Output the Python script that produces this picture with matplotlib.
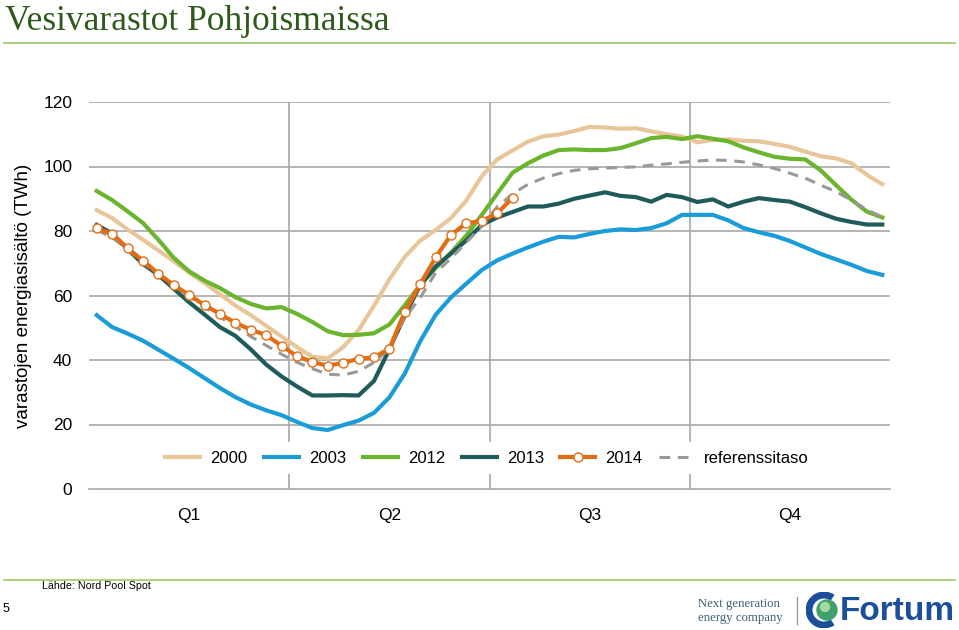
import numpy as np
import matplotlib
matplotlib.use("Agg")
import matplotlib.pyplot as plt
from matplotlib.lines import Line2D
from matplotlib.patches import Circle, Arc

plt.rcParams['font.family'] = ['Liberation Sans', 'DejaVu Sans']

# viikot 1..52
weeks = np.arange(1, 53)
quarters = ['Q1', 'Q2', 'Q3', 'Q4']
yticks = [0, 20, 40, 60, 80, 100, 120]

y2000 = [86.5, 84.0, 80.5, 77.3, 74.0, 70.6, 67.1, 63.9, 60.4, 56.9,
         53.9, 50.6, 47.3, 44.0, 41.0, 40.5, 44.0, 49.3, 56.8, 65.0,
         72.0, 77.0, 80.3, 84.0, 89.5, 97.0, 102.2, 105.0, 107.7, 109.4,
         109.9, 111.0, 112.3, 112.1, 111.7, 111.9, 110.9, 110.0, 109.3, 107.5,
         108.2, 108.4, 108.0, 107.8, 107.0, 106.1, 104.6, 103.2, 102.5, 101.0,
         97.4, 94.5]
y2003 = [53.9, 50.2, 48.2, 46.0, 43.2, 40.4, 37.5, 34.4, 31.3, 28.5,
         26.2, 24.4, 22.9, 20.8, 18.9, 18.3, 19.8, 21.2, 23.6, 28.4,
         35.8, 45.8, 54.0, 59.4, 63.7, 67.9, 70.9, 73.0, 74.9, 76.7,
         78.2, 78.0, 79.1, 80.0, 80.5, 80.3, 80.9, 82.4, 85.0, 85.0,
         85.0, 83.3, 80.9, 79.6, 78.5, 76.9, 74.9, 72.9, 71.2, 69.5,
         67.6, 66.4]
y2012 = [92.4, 89.6, 86.1, 82.5, 77.3, 71.7, 67.5, 64.6, 62.3, 59.5,
         57.4, 56.0, 56.4, 54.3, 51.8, 48.9, 47.7, 47.8, 48.3, 51.0,
         57.0, 63.2, 68.5, 73.3, 78.6, 85.0, 91.6, 98.1, 101.0, 103.4,
         105.1, 105.3, 105.1, 105.1, 105.7, 107.2, 108.8, 109.2, 108.5, 109.4,
         108.6, 107.8, 105.9, 104.4, 103.0, 102.4, 102.2, 98.8, 94.2, 89.7,
         86.0, 84.2]
y2013 = [81.9, 79.2, 74.4, 69.8, 66.4, 62.1, 57.9, 54.1, 50.2, 47.5,
         43.3, 38.6, 34.9, 31.8, 29.0, 29.0, 29.1, 29.0, 33.5, 43.3,
         53.8, 63.2, 69.0, 73.0, 77.1, 81.9, 84.2, 85.9, 87.6, 87.6,
         88.5, 90.0, 91.0, 92.0, 90.9, 90.5, 89.1, 91.2, 90.5, 89.0,
         89.8, 87.6, 89.1, 90.2, 89.6, 89.1, 87.4, 85.5, 83.8, 82.8,
         82.0, 82.0]
y2014 = [80.8, 79.1, 74.7, 70.8, 66.8, 63.2, 60.2, 57.0, 54.3, 51.5,
         49.4, 47.7, 44.4, 41.2, 39.4, 38.2, 39.1, 40.4, 40.8, 43.5,
         55.0, 63.5, 71.8, 78.8, 82.4, 83.1, 85.5, 90.3]
yref = [80.3, 78.0, 74.3, 70.3, 66.6, 63.0, 59.7, 56.4, 53.3, 50.3,
        47.3, 44.5, 41.8, 39.3, 37.3, 35.6, 35.3, 36.5, 39.2, 43.5,
        53.0, 59.3, 67.0, 71.5, 76.5, 81.5, 87.5, 91.5, 94.5, 96.4,
        97.8, 98.8, 99.3, 99.5, 99.7, 99.9, 100.4, 100.8, 101.3, 101.7,
        102.0, 101.9, 101.4, 100.5, 99.4, 97.9, 96.4, 94.2, 92.2, 89.5,
        86.6, 84.3]

c2000 = '#E9C699'
c2003 = '#1A9CD8'
c2012 = '#6BB52E'
c2013 = '#1F5B5B'
c2014 = '#E46C12'
cref = '#999999'
gridc = '#A8A8A8'

fig = plt.figure(figsize=(9.59, 6.30), dpi=100)
ax = fig.add_axes([89/959, 1-489/630, 801/959, 387/630])

lw = 3.0
ax.plot(weeks, y2000, color=c2000, lw=lw, label='2000', zorder=3)
ax.plot(weeks, y2003, color=c2003, lw=lw, label='2003', zorder=3)
ax.plot(weeks, y2012, color=c2012, lw=lw, label='2012', zorder=3)
ax.plot(weeks, y2013, color=c2013, lw=lw, label='2013', zorder=3)
ax.plot(weeks, yref, color=cref, lw=2.2, ls=(0, (3.5, 2.5)), label='referenssitaso', zorder=3)
ax.plot(weeks[:len(y2014)], y2014, color=c2014, lw=lw, marker='o', ms=6.5,
        mfc='white', mec=c2014, mew=1.0, label='2014', zorder=4)

ax.set_xlim(0.5, 52.5)
ax.set_ylim(0, 120)
ax.set_yticks(yticks)
ax.set_xticks([7, 20, 33, 46])
ax.set_xticklabels(quarters)
ax.tick_params(axis='both', length=0, labelsize=12.5)
ax.tick_params(axis='y', pad=12)
ax.tick_params(axis='x', pad=14)

for v in yticks[1:]:
    ax.axhline(v, color=gridc, lw=1.2, zorder=1)
for b in [13.5, 26.5, 39.5]:
    ax.axvline(b, color=gridc, lw=1.2, zorder=1)

for s in ['left', 'right', 'top']:
    ax.spines[s].set_visible(False)
ax.spines['bottom'].set_color(gridc)
ax.spines['bottom'].set_linewidth(1.2)

ax.set_ylabel('varastojen energiasisältö (TWh)', fontsize=13.5)
ax.yaxis.set_label_coords(-(89-24)/801, 0.5)
ax.yaxis.label.set_va('center')

handles = [
    Line2D([], [], color=c2000, lw=lw),
    Line2D([], [], color=c2003, lw=lw),
    Line2D([], [], color=c2012, lw=lw),
    Line2D([], [], color=c2013, lw=lw),
    Line2D([], [], color=c2014, lw=lw, marker='o', ms=6.5, mfc='white', mec=c2014),
    Line2D([], [], color=cref, lw=2.2, ls=(0, (3.5, 2.5))),
]
labels = ['2000', '2003', '2012', '2013', '2014', 'referenssitaso']
leg = ax.legend(handles, labels, loc='center', bbox_to_anchor=(0.497, 0.08),
                ncol=6, frameon=True, fontsize=12, handlelength=2.1,
                handletextpad=0.6, columnspacing=1.0, borderpad=0.5)
leg.get_frame().set_facecolor('white')
leg.get_frame().set_edgecolor('none')
leg.get_frame().set_alpha(1)
leg.set_zorder(5)

# otsikko ja viivat
fig.text(5/959, 1-30/630, 'Vesivarastot Pohjoismaissa', family='Liberation Serif',
         fontsize=25.5, color='#2E5A1C', ha='left', va='baseline')
fig.add_artist(Line2D([4/959, 955/959], [1-43/630, 1-43/630], color='#9BCB6A', lw=1.2))
fig.add_artist(Line2D([4/959, 955/959], [1-580/630, 1-580/630], color='#9BCB6A', lw=1.2))

# alaosa
fig.text(42/959, 1-586/630, 'Lähde: Nord Pool Spot', fontsize=7.7, ha='left', va='center')
fig.text(3/959, 1-609/630, '5', fontsize=9, ha='left', va='center')
fig.text(698/959, 1-604/630, 'Next generation', family='Liberation Serif', fontsize=9.2,
         color='#3E5C7A', ha='left', va='center')
fig.text(698/959, 1-618/630, 'energy company', family='Liberation Serif', fontsize=9.2,
         color='#3E5C7A', ha='left', va='center')
fig.add_artist(Line2D([797/959, 797/959], [1-597/630, 1-624/630], color='#999999', lw=1))

# Fortum-logo
lax = fig.add_axes([806/959, 1-628/630, 36/959, 36/630])
lax.set_xlim(0, 36)
lax.set_ylim(0, 36)
lax.set_aspect('equal')
lax.axis('off')
lax.add_patch(Arc((18, 18), 30, 30, theta1=55, theta2=305, lw=5, color='#1B4F9C'))
lax.add_patch(Circle((21, 18), 10, color='#3FA06A'))
lax.add_patch(Circle((19, 21), 4.5, color='#A5D8A2'))
fig.text(840/959, 1-611/630, 'Fortum', fontsize=24, fontweight='bold',
         color='#1B4F9C', ha='left', va='center')

fig.savefig('out.png', dpi=100)
